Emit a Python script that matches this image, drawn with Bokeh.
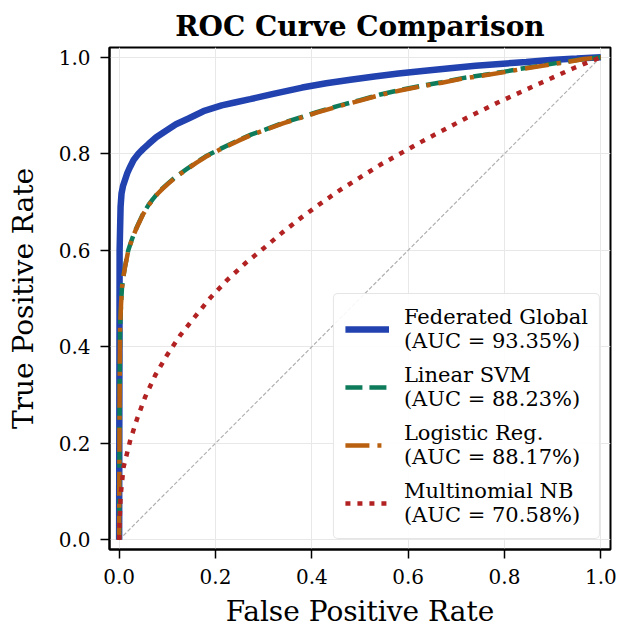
from bokeh.plotting import figure
from bokeh.models import Range1d, FixedTicker, PrintfTickFormatter, Legend, LegendItem
from bokeh.embed import file_html
from bokeh.resources import INLINE

# ---- data ----
fed_fpr = [0.0, 0.001, 0.003, 0.005, 0.008, 0.012, 0.017, 0.023, 0.03, 0.04, 0.05, 0.061, 0.077,
           0.095, 0.118, 0.144, 0.175, 0.213, 0.24, 0.272, 0.32, 0.38, 0.43, 0.48, 0.53, 0.58,
           0.635, 0.687, 0.74, 0.79, 0.845, 0.895, 0.95, 1.0]
fed_tpr = [0.0, 0.60, 0.69, 0.718, 0.733, 0.745, 0.76, 0.773, 0.787, 0.80, 0.81, 0.82, 0.834,
           0.846, 0.861, 0.873, 0.888, 0.90, 0.906, 0.913, 0.924, 0.937, 0.946, 0.953, 0.96, 0.966,
           0.972, 0.977, 0.982, 0.986, 0.99, 0.994, 0.997, 1.0]

svm_fpr = [0.0, 0.001, 0.002, 0.004, 0.006, 0.009, 0.012, 0.019, 0.025, 0.03, 0.035, 0.04, 0.05,
           0.061, 0.07, 0.08, 0.09, 0.102, 0.12, 0.14, 0.16, 0.179, 0.21, 0.248, 0.275, 0.303,
           0.34, 0.376, 0.41, 0.455, 0.5, 0.54, 0.583, 0.625, 0.67, 0.71, 0.756, 0.8, 0.84,
           0.885, 0.929, 0.965, 1.0]
svm_tpr = [0.0, 0.30, 0.44, 0.49, 0.524, 0.547, 0.565, 0.60, 0.618, 0.632, 0.644, 0.655, 0.676,
           0.694, 0.706, 0.718, 0.728, 0.739, 0.754, 0.768, 0.782, 0.794, 0.81, 0.828, 0.84, 0.85,
           0.864, 0.875, 0.886, 0.899, 0.911, 0.922, 0.932, 0.94, 0.948, 0.956, 0.963, 0.97, 0.977,
           0.984, 0.991, 0.996, 1.0]

lr_fpr = [0.0, 0.001, 0.002, 0.004, 0.006, 0.009, 0.012, 0.019, 0.025, 0.03, 0.035, 0.04, 0.05,
          0.061, 0.07, 0.08, 0.09, 0.102, 0.12, 0.14, 0.16, 0.179, 0.21, 0.248, 0.275, 0.303,
          0.34, 0.376, 0.41, 0.455, 0.5, 0.54, 0.583, 0.625, 0.67, 0.71, 0.756, 0.8, 0.84,
          0.885, 0.929, 0.965, 1.0]
lr_tpr = [0.0, 0.30, 0.44, 0.489, 0.523, 0.546, 0.564, 0.599, 0.617, 0.631, 0.643, 0.654, 0.675,
          0.693, 0.705, 0.717, 0.727, 0.738, 0.753, 0.767, 0.781, 0.793, 0.809, 0.827, 0.839, 0.849,
          0.863, 0.874, 0.885, 0.898, 0.910, 0.921, 0.931, 0.939, 0.947, 0.955, 0.962, 0.969, 0.976,
          0.983, 0.990, 0.996, 1.0]

nb_fpr = [0.0, 0.001, 0.003, 0.009, 0.016, 0.023, 0.037, 0.054, 0.075, 0.099, 0.127, 0.158, 0.189,
          0.224, 0.262, 0.30, 0.338, 0.376, 0.417, 0.459, 0.542, 0.628, 0.715, 0.784, 0.874,
          0.943, 1.0]
nb_tpr = [0.0, 0.04, 0.09, 0.15, 0.178, 0.206, 0.25, 0.296, 0.341, 0.382, 0.424, 0.463, 0.501,
          0.538, 0.573, 0.604, 0.636, 0.666, 0.696, 0.725, 0.777, 0.825, 0.871, 0.905, 0.946,
          0.977, 1.0]

diag = [0.0, 1.0]

labels = ["Federated Global\n(AUC = 93.35%)",
          "Linear SVM\n(AUC = 88.23%)",
          "Logistic Reg.\n(AUC = 88.17%)",
          "Multinomial NB\n(AUC = 70.58%)"]
ticks = [0.0, 0.2, 0.4, 0.6, 0.8, 1.0]
x_title = "False Positive Rate"
y_title = "True Positive Rate"

FONT = "DejaVu Serif"

p = figure(width=618, height=630, output_backend="svg", toolbar_location=None,
           x_range=Range1d(-0.02, 1.02), y_range=Range1d(-0.02, 1.02),
           min_border_left=109, min_border_top=47, min_border_right=8, min_border_bottom=81,
           x_axis_label=x_title, y_axis_label=y_title)

p.title.text = "ROC Curve Comparison"
p.title.text_font = FONT
p.title.text_font_style = "bold"
p.title.text_font_size = "28px"
p.title.align = "center"
p.title.vertical_align = "top"
p.title.text_color = "black"
p.title.text_line_height = 1.0
p.title.standoff = 5

p.outline_line_color = "black"
p.outline_line_width = 2
p.outline_line_alpha = 1.0

for ax in (p.xaxis[0], p.yaxis[0]):
    ax.ticker = FixedTicker(ticks=ticks)
    ax.formatter = PrintfTickFormatter(format="%.1f")
    ax.major_label_text_font = FONT
    ax.major_label_text_font_size = "20px"
    ax.major_label_text_color = "black"
    ax.axis_label_text_font = FONT
    ax.axis_label_text_font_size = "28px"
    ax.axis_label_text_font_style = "normal"
    ax.axis_label_text_color = "black"
    ax.axis_label_text_line_height = 1.0
    ax.axis_line_color = "black"
    ax.axis_line_width = 2
    ax.major_tick_line_color = "black"
    ax.major_tick_line_width = 1.5
    ax.major_tick_out = 9
    ax.major_tick_in = 0
    ax.minor_tick_line_color = None

p.xaxis[0].major_label_standoff = 10
p.xaxis[0].axis_label_standoff = 8
p.yaxis[0].major_label_standoff = 10
p.yaxis[0].axis_label_standoff = 16

p.grid.ticker = FixedTicker(ticks=ticks)
p.grid.grid_line_color = "#e8e8e8"
p.grid.grid_line_width = 1

p.line(diag, diag, line_color="#b0b0b0", line_width=1.2, line_dash="4 2")
r_fed = p.line(fed_fpr, fed_tpr, line_color="#2242B0", line_width=6.5)
r_svm = p.line(svm_fpr, svm_tpr, line_color="#0E7C5B", line_width=4.5, line_dash="17 7")
r_lr = p.line(lr_fpr, lr_tpr, line_color="#B8600F", line_width=4.5, line_dash="24 8 4 8")
r_nb = p.line(nb_fpr, nb_tpr, line_color="#B22222", line_width=4.5, line_dash="5 7")

legend = Legend(items=[LegendItem(label=labels[0], renderers=[r_fed]),
                       LegendItem(label=labels[1], renderers=[r_svm]),
                       LegendItem(label=labels[2], renderers=[r_lr]),
                       LegendItem(label=labels[3], renderers=[r_nb])],
                location="bottom_right", margin=10, padding=11, spacing=10,
                glyph_width=44, label_standoff=15,
                label_text_font=FONT, label_text_font_size="21px", label_text_color="black",
                label_text_line_height=1.1,
                border_line_color="#cccccc", border_line_width=1.5,
                background_fill_color="white", background_fill_alpha=0.9)
try:
    legend.border_radius = 5
except Exception:
    pass
p.add_layout(legend)

open("out.html", "w").write(file_html(p, INLINE))
